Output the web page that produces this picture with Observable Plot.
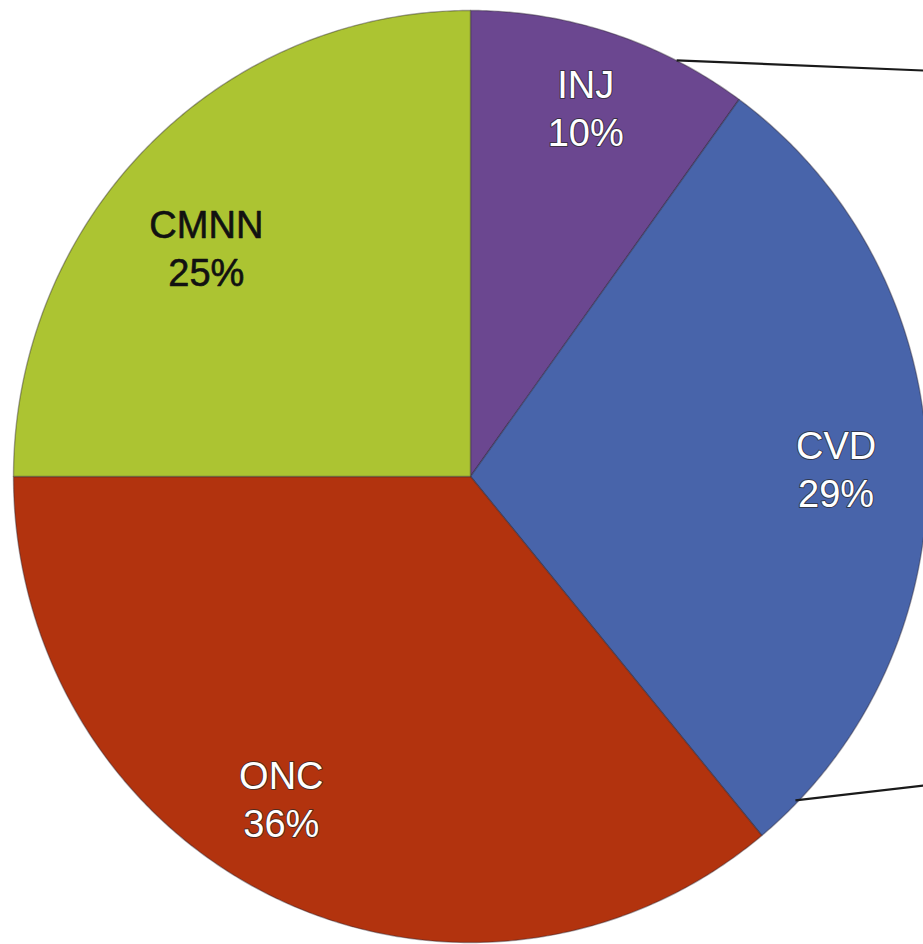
<!DOCTYPE html>
<html>
<head>
<meta charset="utf-8">
<script src="https://cdn.jsdelivr.net/npm/d3@7"></script>
<script src="https://cdn.jsdelivr.net/npm/@observablehq/plot@0.6"></script>
<style>
  html, body { margin: 0; padding: 0; background: #ffffff; overflow: hidden; }
  #chart svg { display: block; }
</style>
</head>
<body>
<div id="chart"></div>
<script>
// ---- data ----
const categories = ["INJ", "CVD", "ONC", "CMNN"];
const shares = [10, 29, 36, 25];           // percent, clockwise from 12 o'clock
const sliceColors = ["#6b4790", "#4864aa", "#b2330e", "#acc432"];
const labelColors = ["#ffffff", "#ffffff", "#ffffff", "#111111"];
// label anchors in unit-circle coordinates (x right, y up)
const labelX = [0.252, 0.80, -0.414, -0.578];
const labelY = [0.794, 0.02, -0.689, 0.494];
// connector lines leaving the pie edge toward the right (unit coords)
const connectorFrom = [[0.451, 0.893], [0.711, -0.695]];
const connectorTo   = [[0.995, 0.871], [0.995, -0.663]];

// ---- build slice polygons from the shares ----
const total = d3.sum(shares);
const slices = [];
let start = 0;
categories.forEach((name, i) => {
  const a0 = start / total * 2 * Math.PI;
  const a1 = (start + shares[i]) / total * 2 * Math.PI;
  start += shares[i];
  const pts = [{name, x: 0, y: 0}];
  const n = Math.max(2, Math.ceil((a1 - a0) / (Math.PI / 360)));
  for (let k = 0; k <= n; k++) {
    const a = a0 + (a1 - a0) * k / n;
    pts.push({name, x: Math.sin(a), y: Math.cos(a)});
  }
  pts.push({name, x: 0, y: 0});
  slices.push(pts);
});

const labels = categories.map((name, i) => ({
  name, text: `${name}\n${shares[i]}%`, x: labelX[i], y: labelY[i], color: labelColors[i]
}));
const connectors = connectorFrom.map((f, i) => ({x1: f[0], y1: f[1], x2: connectorTo[i][0], y2: connectorTo[i][1]}));

const W = 923, H = 944;
const chart = Plot.plot({
  width: W,
  height: H,
  margin: 0,
  x: {domain: [-1, 1], range: [13, 927], axis: null},
  y: {domain: [-1, 1], range: [942, 10], axis: null},
  style: {background: "#ffffff", fontFamily: "'Liberation Sans', Arial, Helvetica, sans-serif"},
  marks: [
    ...slices.map((pts, i) => Plot.line(pts, {
      x: "x", y: "y", fill: sliceColors[i], stroke: "#2a2230", strokeOpacity: 0.4, strokeWidth: 1.4, curve: "linear"
    })),
    Plot.link(connectors, {x1: "x1", y1: "y1", x2: "x2", y2: "y2", stroke: "#1a1a1a", strokeWidth: 2.2}),
    Plot.text(labels.filter(d => d.color === "#ffffff"), {
      x: "x", y: "y", text: "text", fill: "color", fontSize: 38, lineHeight: 1.27,
      stroke: "#262626", strokeWidth: 2, strokeOpacity: 0.7, textAnchor: "middle"
    }),
    Plot.text(labels.filter(d => d.color !== "#ffffff"), {
      x: "x", y: "y", text: "text", fill: "color", fontSize: 38, lineHeight: 1.27, textAnchor: "middle",
      stroke: "#111111", strokeWidth: 0.6
    })
  ]
});
document.getElementById("chart").appendChild(chart);
</script>
</body>
</html>
